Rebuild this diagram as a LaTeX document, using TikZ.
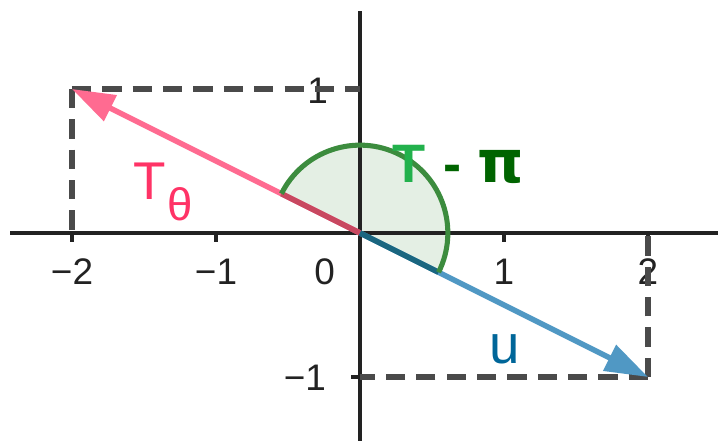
\documentclass[tikz,border=0pt]{standalone}
\usepackage{fontspec}
\setmainfont{Liberation Sans}
\newfontfamily\dejavu{DejaVu Sans}
\usetikzlibrary{arrows.meta, calc}

\definecolor{axisgray}{RGB}{34,34,34}
\definecolor{guidegray}{RGB}{74,74,74}
\definecolor{tcol}{RGB}{255,107,145}
\definecolor{tdark}{RGB}{200,72,96}
\definecolor{tlabel}{RGB}{255,51,102}
\definecolor{ucol}{RGB}{80,152,196}
\definecolor{udark}{RGB}{26,102,128}
\definecolor{ulabel}{RGB}{0,102,153}
\definecolor{arcgreen}{RGB}{60,140,62}
\definecolor{arcfill}{RGB}{228,239,228}
\definecolor{glight}{RGB}{34,177,76}
\definecolor{gdark}{RGB}{0,100,0}

\begin{document}
\begin{tikzpicture}[
    axis/.style={line width=0.6pt, draw=axisgray},
    ticklabel/.style={font=\fontsize{7.3}{9}\selectfont, text=axisgray, inner sep=0pt},
    vec/.style={line width=1.1pt, -{Triangle[length=8.5pt, width=5.5pt]}},
    guide/.style={line width=1pt, draw=guidegray, dash pattern=on 3.8pt off 2.2pt},
]
\useasboundingbox (-2.5,-1.4444) rectangle (2.4861,1.6181);

\coordinate (O) at (0,0);
\coordinate (T) at (-2,1);
\coordinate (U) at (2,-1);
\coordinate (Tx) at (-2,0);
\coordinate (Ty) at (0,1);
\coordinate (Ux) at (2,0);
\coordinate (Uy) at (0,-1);
\coordinate (Ta) at ($(O)!0.61cm!(T)$);
\coordinate (Ua) at ($(O)!0.61cm!(U)$);

% angle sector
\fill[arcfill] (O) -- (Ua) arc[start angle=-26.57, end angle=153.43, radius=0.61] -- cycle;

% axes
\coordinate (xmin) at (-2.43,0);
\coordinate (xmax) at (2.49,0);
\coordinate (ymin) at (0,-1.45);
\coordinate (ymax) at (0,1.54);
\draw[axis] (xmin) -- (xmax);
\draw[axis] (ymin) -- (ymax);
\foreach \x in {-2,-1,1,2}
    \draw[axis] (\x,0) -- (\x,-0.0625);
\foreach \y in {-1,1}
    \draw[axis] (0,\y) -- (-0.0625,\y);

\foreach \x/\t in {-2/−2, -1/−1, 1/1, 2/2}
    \node[ticklabel] (xl\x) at (\x,-0.27) {\t};
\node[ticklabel] (zero) at (-0.246,-0.27) {0};
\node[ticklabel, anchor=east] (yl1) at (-0.215,0.986) {1};
\node[ticklabel, anchor=east] (ylm1) at (-0.229,-1.007) {−1};

% components
\draw[guide] (T) -- (Tx);
\draw[guide] (T) -- (Ty);
\draw[guide] (U) -- (Ux);
\draw[guide] (U) -- (Uy);

% vectors
\draw[vec, tcol] (O) -- (T);
\draw[vec, ucol] (O) -- (U);
\draw[line width=1.1pt, tdark] (O) -- (Ta);
\draw[line width=1.1pt, udark] (O) -- (Ua);
\draw[line width=1pt, arcgreen] (Ua) arc[start angle=-26.57, end angle=153.43, radius=0.61];

% labels
\node[anchor=base west, inner sep=0pt, text=tlabel, font=\fontsize{10.5}{12}\selectfont] (tname) at (-1.58,0.236)
    {T\hspace{0.4pt}\raisebox{-4.3pt}{\fontsize{9}{10}\selectfont θ}};
\node[anchor=base west, inner sep=0pt, text=ulabel, font=\fontsize{10.8}{13}\selectfont] (uname) at (0.89,-0.903) {u};
\node[anchor=base west, inner sep=0pt, font=\bfseries\fontsize{10.7}{12}\selectfont] (angname) at (0.22,0.354)
    {{\color{glight}T}\color{gdark}\hspace{3.6pt}-\hspace{3pt}{\dejavu\bfseries\fontsize{11.6}{12}\selectfont π}};
\end{tikzpicture}
\end{document}
